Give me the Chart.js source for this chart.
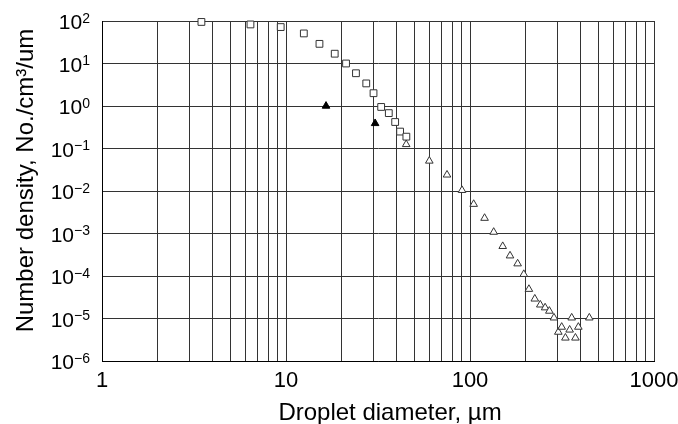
<!DOCTYPE html>
<html><head><meta charset="utf-8">
<script src="https://cdn.jsdelivr.net/npm/chart.js@4.4.1/dist/chart.umd.min.js"></script>
<style>html,body{margin:0;padding:0;background:#fff}</style>
</head><body>
<canvas id="c" width="678" height="424"></canvas>
<script>
// ---- data ----
const xTickValues = [1,2,3,4,5,6,7,8,9,10,20,30,40,50,60,70,80,90,100,200,300,400,500,600,700,800,900,1000];
const xTickLabels = {1:'1', 10:'10', 100:'100', 1000:'1000'};
const yExponents = [2,1,0,-1,-2,-3,-4,-5,-6];
const xTitle = 'Droplet diameter, µm';
const yTitle = 'Number density, No./cm³/um';

const squareD = [3.47, 6.41, 9.36, 12.5, 15.2, 18.4, 21.2, 24.0, 27.3, 29.9, 32.9, 36.2, 39.2, 41.7, 45.1];
const squareN = [95, 83, 72, 51, 29, 17, 10, 5.9, 3.4, 2.0, 0.95, 0.68, 0.42, 0.25, 0.19];

const filledD = [16.5, 30.5];
const filledN = [1.0, 0.39];

const openD = [45, 60.1, 75.0, 90.5, 104.7, 120, 134.5, 150.6, 165, 181.5, 196, 209, 225, 241, 256, 270, 286, 302, 315, 330, 348, 357, 374, 388, 445];
const openN = [0.125, 0.051, 0.024, 0.0104, 0.0049, 0.0023, 0.00108, 5.0e-4, 3.0e-4, 1.95e-4, 1.1e-4, 4.9e-5, 2.9e-5, 2.1e-5, 1.8e-5, 1.5e-5, 1.04e-5, 4.8e-6, 6.3e-6, 3.5e-6, 5.4e-6, 1.04e-5, 3.5e-6, 6.3e-6, 1.04e-5];

// ---- helpers ----
const FONT = '"Liberation Sans", Arial, sans-serif';
const pts = (xs, ys) => xs.map((x, i) => ({x: x, y: ys[i]}));

const overlay = {
  id: 'overlay',
  afterDraw(chart) {
    const ctx = chart.ctx;
    const y = chart.scales.y;
    const area = chart.chartArea;
    ctx.save();
    ctx.fillStyle = '#000';
    const right = area.left - 12;
    yExponents.forEach((e) => {
      const py = y.getPixelForValue(Math.pow(10, e)) + 0.5;
      const expTxt = e < 0 ? '\u2212' + Math.abs(e) : String(e);
      ctx.font = '14px ' + FONT;
      const ew = ctx.measureText(expTxt).width;
      ctx.textBaseline = 'alphabetic';
      ctx.textAlign = 'left';
      ctx.fillText(expTxt, right - ew, py + 1.2);
      ctx.font = '21px ' + FONT;
      ctx.textAlign = 'right';
      ctx.fillText('10', right - ew, py + 7.5);
    });
    ctx.font = '24px ' + FONT;
    ctx.textAlign = 'center';
    ctx.textBaseline = 'alphabetic';
    ctx.fillText(xTitle, 390, 420);
    ctx.translate(32.5, 180.5);
    ctx.rotate(-Math.PI / 2);
    ctx.fillText(yTitle, 0, 0);
    ctx.restore();
  }
};

new Chart(document.getElementById('c'), {
  type: 'scatter',
  data: {
    datasets: [
      {data: pts(squareD, squareN), clip: false, pointStyle: 'rect', pointRadius: 4.8, backgroundColor: '#fff', borderColor: '#333', borderWidth: 1},
      {data: pts(filledD, filledN), clip: false, pointStyle: 'triangle', pointRadius: 4.4, backgroundColor: '#000', borderColor: '#000', borderWidth: 1},
      {data: pts(openD, openN), clip: false, pointStyle: 'triangle', pointRadius: 4.4, backgroundColor: '#fff', borderColor: '#333', borderWidth: 1}
    ]
  },
  options: {
    responsive: false,
    animation: false,
    devicePixelRatio: 1,
    layout: {padding: {left: 0, right: 24, top: 21, bottom: 0}},
    plugins: {legend: {display: false}, tooltip: {enabled: false}},
    scales: {
      x: {
        type: 'logarithmic', min: 1, max: 1000, position: 'bottom',
        afterBuildTicks: s => { s.ticks = xTickValues.map(v => ({value: v})); },
        afterFit: s => { s.height = 63; s.paddingLeft = 0; s.paddingRight = 0; },
        ticks: {autoSkip: false, maxRotation: 0, minRotation: 0, padding: 7, color: '#000',
                font: {family: FONT, size: 22},
                callback: v => (xTickLabels[v] !== undefined ? xTickLabels[v] : '')},
        grid: {color: '#333', lineWidth: 1, drawTicks: false},
        border: {color: '#000', width: 1}
      },
      y: {
        type: 'logarithmic', min: 1e-6, max: 100, position: 'left',
        afterBuildTicks: s => { s.ticks = yExponents.map(e => ({value: Math.pow(10, e)})); },
        afterFit: s => { s.width = 102; s.paddingTop = 0; s.paddingBottom = 0; },
        ticks: {display: false},
        grid: {color: '#333', lineWidth: 1, drawTicks: false},
        border: {color: '#000', width: 1}
      }
    }
  },
  plugins: [overlay]
});
</script>
</body></html>
